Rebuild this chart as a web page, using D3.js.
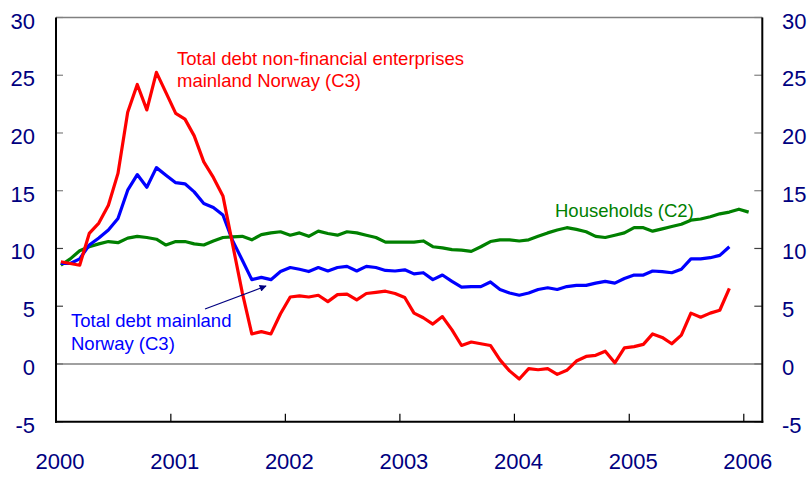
<!DOCTYPE html>
<html>
<head>
<meta charset="utf-8">
<script src="https://cdn.jsdelivr.net/npm/d3@7"></script>
<style>
  body { margin: 0; background: #fff; }
  svg text { font-family: "Liberation Sans", Arial, sans-serif; }
</style>
</head>
<body>
<div id="chart"></div>
<script>
// monthly growth rates, Jan 2000 onwards (per cent)
const startMonth = new Date(2000, 0, 1);

const enterprises = [
  8.85, 8.7, 8.55, 11.3, 12.2, 13.75, 16.5, 21.8, 24.2, 22.0, 25.25, 23.5,
  21.7, 21.2, 19.75, 17.5, 16.15, 14.55, 10.4, 6.2, 2.6, 2.8, 2.6, 4.35,
  5.8, 5.9, 5.8, 5.95, 5.4, 6.0, 6.05, 5.55, 6.1, 6.2, 6.3, 6.1,
  5.75, 4.4, 4.0, 3.45, 4.1, 2.95, 1.6, 1.9, 1.75, 1.6, 0.35, -0.6,
  -1.3, -0.4, -0.5, -0.4, -0.9, -0.55, 0.25, 0.65, 0.75, 1.1, 0.1, 1.4,
  1.5, 1.7, 2.6, 2.3, 1.75, 2.5, 4.4, 4.05, 4.4, 4.65, 6.55
];

const mainland = [
  8.7, 8.7, 9.1, 10.3, 10.9, 11.6, 12.6, 15.05, 16.4, 15.3, 17.0, 16.35,
  15.7, 15.6, 14.9, 13.9, 13.55, 12.9, 10.7, 9.0, 7.3, 7.5, 7.3, 8.0,
  8.35, 8.2, 8.0, 8.35, 8.05, 8.35, 8.45, 8.05, 8.45, 8.35, 8.1, 8.05,
  8.15, 7.8, 7.9, 7.3, 7.7, 7.15, 6.65, 6.7, 6.7, 7.1, 6.45, 6.15,
  5.95, 6.15, 6.45, 6.6, 6.45, 6.7, 6.8, 6.8, 7.0, 7.15, 7.0, 7.4,
  7.7, 7.7, 8.05, 8.0, 7.9, 8.2, 9.1, 9.1, 9.2, 9.4, 10.15
];

const households = [
  8.55, 9.1, 9.8, 10.15, 10.4, 10.6, 10.5, 10.9, 11.05, 10.95, 10.8, 10.3,
  10.6, 10.6, 10.4, 10.3, 10.65, 10.95, 11.0, 11.05, 10.75, 11.2, 11.35, 11.45,
  11.15, 11.35, 11.05, 11.5, 11.3, 11.15, 11.45, 11.35, 11.15, 10.95, 10.55, 10.55,
  10.55, 10.55, 10.65, 10.15, 10.05, 9.9, 9.85, 9.75, 10.15, 10.6, 10.75, 10.75,
  10.65, 10.75, 11.05, 11.35, 11.6, 11.8, 11.65, 11.45, 11.05, 10.95, 11.15, 11.35,
  11.8, 11.8, 11.5, 11.7, 11.9, 12.1, 12.45, 12.55, 12.75, 13.0, 13.15, 13.4, 13.15
];

const yTicks = [-5, 0, 5, 10, 15, 20, 25, 30];
const yearTicks = [2000, 2001, 2002, 2003, 2004, 2005, 2006];

const W = 807, H = 477;
const plotL = 56, plotR = 762.3, plotT = 17.5, plotB = 421.7;

const svg = d3.select("#chart").append("svg")
  .attr("width", W).attr("height", H);

const x = d3.scaleTime()
  .domain([startMonth, new Date(2006, 2, 1)])
  .range([plotL, plotR]);
const y = d3.scaleLinear().domain([-5, 30]).range([plotB, plotT]);

// points sit in the middle of each month
const monthMid = (i) => {
  const a = d3.timeMonth.offset(startMonth, i);
  const b = d3.timeMonth.offset(startMonth, i + 1);
  return new Date((+a + +b) / 2);
};

const navy = "#000080";

// frame
svg.append("line").attr("x1", plotL).attr("x2", plotR).attr("y1", plotT).attr("y2", plotT)
  .attr("stroke", "#808080").attr("stroke-width", 1.5);

// y ticks (inward on both sides)
yTicks.forEach((t) => {
  const yy = y(t);
  const col = t >= 15 ? "#808080" : "#404040";
  svg.append("line").attr("x1", plotL).attr("x2", plotL + 7).attr("y1", yy).attr("y2", yy)
    .attr("stroke", col).attr("stroke-width", 1.2);
  svg.append("line").attr("x1", plotR - 8).attr("x2", plotR).attr("y1", yy).attr("y2", yy)
    .attr("stroke", col).attr("stroke-width", 1.2);
  svg.append("text").attr("x", 35).attr("y", yy + 11)
    .attr("text-anchor", "end").attr("font-size", 22).attr("fill", navy).text(t);
  svg.append("text").attr("x", 782).attr("y", yy + 11)
    .attr("text-anchor", "start").attr("font-size", 22).attr("fill", navy).text(t);
});

// zero line
svg.append("line").attr("x1", plotL).attr("x2", plotR).attr("y1", y(0)).attr("y2", y(0))
  .attr("stroke", "#808080").attr("stroke-width", 1.5);

// x ticks and labels
yearTicks.forEach((yr) => {
  const xx = x(new Date(yr, 0, 1));
  svg.append("line").attr("x1", xx).attr("x2", xx).attr("y1", plotB).attr("y2", plotB - 8)
    .attr("stroke", "#000").attr("stroke-width", 1.2);
  svg.append("text").attr("x", xx + 4).attr("y", 469)
    .attr("text-anchor", "middle").attr("font-size", 22).attr("fill", navy).text(yr);
});

svg.append("line").attr("x1", plotL).attr("x2", plotL).attr("y1", plotT).attr("y2", plotB + 1)
  .attr("stroke", "#000").attr("stroke-width", 2);
svg.append("line").attr("x1", plotR).attr("x2", plotR).attr("y1", plotT).attr("y2", plotB + 1)
  .attr("stroke", "#000").attr("stroke-width", 2);
svg.append("line").attr("x1", plotL - 1).attr("x2", plotR + 1).attr("y1", plotB).attr("y2", plotB)
  .attr("stroke", "#000").attr("stroke-width", 2);

const line = d3.line()
  .x((d, i) => x(monthMid(i)))
  .y((d) => y(d));

const series = [
  { values: households, color: "#008000" },
  { values: mainland, color: "#0000ff" },
  { values: enterprises, color: "#ff0000" },
];

series.forEach((s) => {
  svg.append("path").datum(s.values)
    .attr("fill", "none")
    .attr("stroke", s.color)
    .attr("stroke-width", 3.2)
    .attr("stroke-linejoin", "round")
    .attr("d", line);
});

// annotations
const red = svg.append("text").attr("font-size", 18.5).attr("fill", "#ff0000");
red.append("tspan").attr("x", 177).attr("y", 65).text("Total debt non-financial enterprises");
red.append("tspan").attr("x", 177).attr("y", 87).text("mainland Norway (C3)");

const blue = svg.append("text").attr("font-size", 18.5).attr("fill", "#0000ff");
blue.append("tspan").attr("x", 71).attr("y", 327).text("Total debt mainland");
blue.append("tspan").attr("x", 71).attr("y", 350).text("Norway (C3)");

svg.append("text").attr("x", 555).attr("y", 217).attr("font-size", 18.5)
  .attr("fill", "#008000").text("Households (C2)");

svg.append("defs").append("marker")
  .attr("id", "arrow").attr("viewBox", "0 0 10 10")
  .attr("refX", 9).attr("refY", 5)
  .attr("markerWidth", 9).attr("markerHeight", 7)
  .attr("markerUnits", "userSpaceOnUse")
  .attr("orient", "auto")
  .append("path").attr("d", "M0,0 L10,5 L0,10 z").attr("fill", navy);

svg.append("line")
  .attr("x1", 205).attr("y1", 309).attr("x2", 266).attr("y2", 286)
  .attr("stroke", navy).attr("stroke-width", 1.2)
  .attr("marker-end", "url(#arrow)");
</script>
</body>
</html>
